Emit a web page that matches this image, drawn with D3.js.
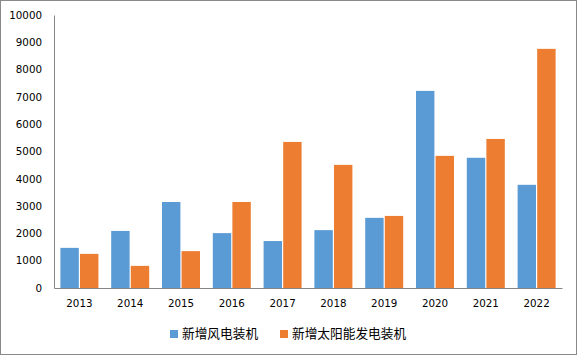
<!DOCTYPE html>
<html><head><meta charset="utf-8">
<script src="https://cdn.jsdelivr.net/npm/d3@7"></script>
<style>body{margin:0;background:#fff}svg{display:block}</style>
</head><body>
<script>
const years = ["2013","2014","2015","2016","2017","2018","2019","2020","2021","2022"];
const windValues = [1470, 2090, 3150, 2010, 1720, 2120, 2570, 7220, 4770, 3780];
const solarValues = [1250, 810, 1350, 3150, 5350, 4510, 2640, 4840, 5460, 8760];
const seriesNames = ["新增风电装机", "新增太阳能发电装机"];
const seriesColors = ["#5B9BD5", "#ED7D31"];
const yTicks = [0,1000,2000,3000,4000,5000,6000,7000,8000,9000,10000];

(function(){
const W = 577, H = 355;
const svg = d3.select("body").append("svg").attr("width", W).attr("height", H);
svg.append("rect").attr("x",0.5).attr("y",0.5).attr("width",W-1).attr("height",H-1)
  .attr("fill","#fff").attr("stroke","#898989");

const mLeft = 54, mRight = 562, mTop = 15, mBottom = 288;
const x = d3.scaleBand().domain(years).range([mLeft, mRight]).paddingInner(0).paddingOuter(0);
const x1 = d3.scaleBand().domain([0,1]).range([6.4, x.bandwidth()-6.4]).paddingInner(0.06);
const y = d3.scaleLinear().domain([0, 10000]).range([mBottom, mTop]);

const data = years.map((yr,i)=>({yr, vals:[windValues[i], solarValues[i]]}));
const g = svg.append("g");
g.selectAll("g.grp").data(data).join("g").attr("class","grp")
  .attr("transform", d=>`translate(${x(d.yr)},0)`)
  .selectAll("rect").data(d=>d.vals.map((v,k)=>({v,k}))).join("rect")
  .attr("x", d=>x1(d.k)).attr("width", x1.bandwidth())
  .attr("y", d=>y(d.v)).attr("height", d=>y(0)-y(d.v))
  .attr("fill", d=>seriesColors[d.k]);

const font = "'DejaVu Sans', Verdana, sans-serif";
const yAxis = svg.append("g").attr("transform",`translate(${mLeft},0)`)
  .call(d3.axisLeft(y).tickValues(yTicks).tickSize(0).tickPadding(12).tickFormat(d3.format("d")));
yAxis.select(".domain").attr("stroke","#868686");
yAxis.selectAll("text").attr("font-family",font).attr("font-size","10.3px").attr("fill","#000");

const xAxis = svg.append("g").attr("transform",`translate(0,${mBottom})`)
  .call(d3.axisBottom(x).tickSize(0).tickPadding(12));
xAxis.select(".domain").attr("stroke","#868686");
xAxis.selectAll("text").attr("font-family",font).attr("font-size","10.3px").attr("fill","#000");

const legendX = [170, 280];
const lg = svg.append("g");
seriesNames.forEach((n,i)=>{
  lg.append("rect").attr("x",legendX[i]).attr("y",330).attr("width",8).attr("height",8).attr("fill",seriesColors[i]);
  lg.append("text").attr("x",legendX[i]+12).attr("y",334).attr("dy","0.35em")
    .attr("font-family","'Noto Sans CJK SC', sans-serif").attr("font-size","12.7px").attr("fill","#000").text(n);
});
})();
</script>
</body></html>
